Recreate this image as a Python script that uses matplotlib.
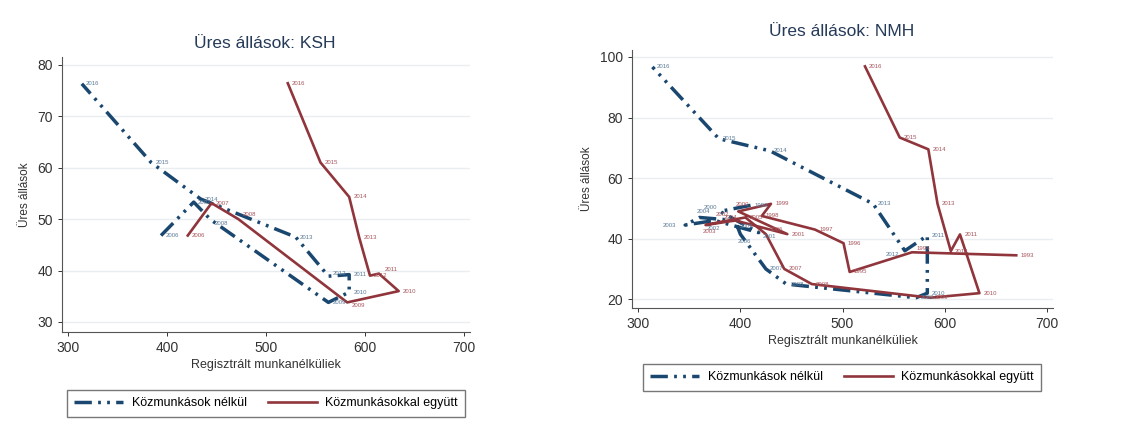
import matplotlib
matplotlib.use("Agg")
import matplotlib.pyplot as plt
from matplotlib.lines import Line2D

plt.rcParams['font.family'] = ['Liberation Sans', 'DejaVu Sans']

# --- KSH panel ---
ksh_years = [2006, 2007, 2008, 2009, 2010, 2011, 2012, 2013, 2014, 2015, 2016]
ksh_blue_x = [394, 427, 444, 563, 584, 584, 563, 530, 434, 384, 314]
ksh_blue_y = [46.8, 53.3, 49.9, 33.8, 35.8, 39.2, 38.9, 46.5, 53.9, 61.0, 76.3]
ksh_red_x = [421, 445, 472, 582, 634, 614, 605, 594, 584, 555, 522]
ksh_red_y = [46.8, 53.1, 50.0, 33.8, 36.0, 39.4, 39.0, 46.5, 54.3, 61.0, 76.4]

# --- NMH panel ---
nmh_blue_years = [1999, 2000, 2001, 2002, 2003, 2004, 2005, 2006, 2007, 2008,
                  2009, 2010, 2011, 2012, 2013, 2014, 2015, 2016]
nmh_blue_x = [410, 380, 418, 375, 346, 360, 395, 400, 425, 445,
              572, 583, 583, 561, 530, 429, 379, 314]
nmh_blue_y = [51.0, 49.0, 42.0, 46.0, 44.5, 47.0, 46.0, 41.5, 30.0, 25.0,
              20.5, 22.0, 41.0, 36.0, 51.5, 69.0, 73.0, 96.7]
nmh_red_years = [1993, 1994, 1995, 1996, 1997, 1998, 1999, 2000, 2001, 2002,
                 2003, 2004, 2005, 2006, 2007, 2008, 2009, 2010, 2011, 2012,
                 2013, 2014, 2015, 2016]
nmh_red_x = [670, 568, 507, 501, 473, 421, 430, 398, 446, 395,
             366, 380, 405, 425, 443, 470, 586, 634, 615, 606,
             593, 584, 556, 522]
nmh_red_y = [34.5, 35.5, 29.0, 38.5, 43.0, 47.5, 51.5, 49.0, 41.5, 46.0,
             44.5, 45.5, 47.0, 41.5, 30.0, 25.0, 20.5, 22.0, 41.4, 35.9,
             51.5, 69.5, 73.4, 96.9]

legend_labels = ["Közmunkások nélkül", "Közmunkásokkal együtt"]

BLUE = "#1a476f"
RED = "#90353b"
BLUE_LBL = "#5a7a98"
RED_LBL = "#a8555c"
DASH = (0, (5, 1.8, 0.8, 1.8, 0.8, 1.8))

# label nudges (points) where the year labels would sit on top of each other
nmh_blue_off = {2002: (-6, -6), 2003: (-16, 0), 2004: (-2, 4), 2005: (3, -4),
                2001: (3, -3), 2012: (-14, -3), 2000: (-12, 3), 2006: (-2, -5)}
nmh_red_off = {2003: (-2, -5), 2004: (3, 3), 2002: (-14, 4), 2006: (3, 3),
               1994: (3, 3), 2000: (-2, 5), 2005: (3, 0)}

W, H = 1131, 433
fig = plt.figure(figsize=(W / 100, H / 100), dpi=100)


def make_axes(l, r, t, b):
    return fig.add_axes([l / W, 1 - b / H, (r - l) / W, (b - t) / H])


def style(ax, ylim, yticks):
    ax.set_xlim(294, 706)
    ax.set_ylim(*ylim)
    ax.set_xticks([300, 400, 500, 600, 700])
    ax.set_yticks(yticks)
    for s in ["top", "right"]:
        ax.spines[s].set_visible(False)
    for s in ["left", "bottom"]:
        ax.spines[s].set_color("#555555")
        ax.spines[s].set_linewidth(0.8)
    ax.tick_params(labelsize=10, colors="#333333", length=3, width=0.7)
    ax.grid(axis="y", color="#eaeef0", linewidth=1.0)
    ax.set_axisbelow(True)
    ax.set_ylabel("Üres állások", fontsize=8.5, color="#333333", labelpad=5)
    ax.set_xlabel("Regisztrált munkanélküliek", fontsize=9, color="#333333", labelpad=3)


def draw(ax, bx, by, byears, rx, ry, ryears, boff=None, roff=None):
    boff = boff or {}
    roff = roff or {}
    ax.plot(bx, by, color=BLUE, lw=2.5, linestyle=DASH)
    ax.plot(rx, ry, color=RED, lw=1.9)
    for x, y, yr in zip(bx, by, byears):
        ax.annotate(str(yr), (x, y), xytext=boff.get(yr, (3, 0)), textcoords="offset points",
                    fontsize=4.3, color=BLUE_LBL, va="center")
    for x, y, yr in zip(rx, ry, ryears):
        ax.annotate(str(yr), (x, y), xytext=roff.get(yr, (3, 0)), textcoords="offset points",
                    fontsize=4.3, color=RED_LBL, va="center")


handles = [Line2D([], [], color=BLUE, lw=2.5, linestyle=DASH),
           Line2D([], [], color=RED, lw=1.9)]

# left panel
ax1 = make_axes(62, 470, 57, 332)
draw(ax1, ksh_blue_x, ksh_blue_y, ksh_years, ksh_red_x, ksh_red_y, ksh_years,
     {2008: (3, -3), 2012: (3, 2)}, {2008: (3, 3), 2011: (4, 3), 2009: (3, -2)})
style(ax1, (28.05, 81.5), [30, 40, 50, 60, 70, 80])
fig.text(265 / W, 1 - 43 / H, "Üres állások: KSH", ha="center", va="center",
         fontsize=12.5, color="#253a58")
fig.legend(handles, legend_labels, loc="center", bbox_to_anchor=(266 / W, 1 - 403 / H),
           ncol=2, fontsize=9, frameon=True, fancybox=False, edgecolor="#555555",
           handlelength=3.9, handletextpad=0.7, columnspacing=1.7, borderpad=0.6)

# right panel
ax2 = make_axes(632, 1053, 50, 308)
draw(ax2, nmh_blue_x, nmh_blue_y, nmh_blue_years, nmh_red_x, nmh_red_y, nmh_red_years,
     nmh_blue_off, nmh_red_off)
style(ax2, (17.1, 102.3), [20, 40, 60, 80, 100])
fig.text(842 / W, 1 - 32 / H, "Üres állások: NMH", ha="center", va="center",
         fontsize=12.5, color="#253a58")
fig.legend(handles, legend_labels, loc="center", bbox_to_anchor=(842 / W, 1 - 377 / H),
           ncol=2, fontsize=9, frameon=True, fancybox=False, edgecolor="#555555",
           handlelength=3.9, handletextpad=0.7, columnspacing=1.7, borderpad=0.6)

fig.savefig("out.png", dpi=100, facecolor="white")
